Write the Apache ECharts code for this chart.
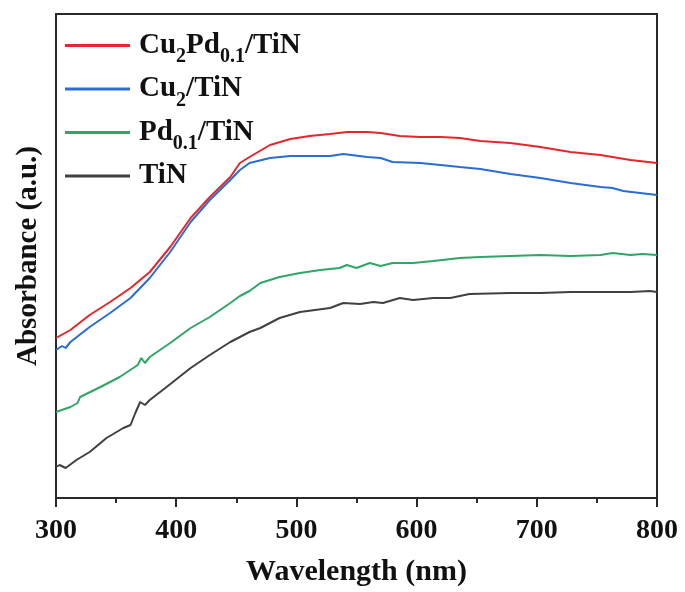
<!DOCTYPE html>
<html>
<head>
<meta charset="utf-8">
<script src="https://cdn.jsdelivr.net/npm/echarts@6/dist/echarts.min.js"></script>
<style>html,body{margin:0;padding:0;background:#fff}#c{width:685px;height:592px}</style>
</head>
<body>
<div id="c"></div>
<script>
// Series names (rich-text formatted in legend)
const seriesNames = ['Cu2Pd0.1/TiN', 'Cu2/TiN', 'Pd0.1/TiN', 'TiN'];
const legendRich = {
  'Cu2Pd0.1/TiN': '{b|Cu}{s|2}{b|Pd}{s|0.1}{b|/TiN}',
  'Cu2/TiN': '{b|Cu}{s|2}{b|/TiN}',
  'Pd0.1/TiN': '{b|Pd}{s|0.1}{b|/TiN}',
  'TiN': '{b|TiN}{s| }'
};
const xTicks = [300, 400, 500, 600, 700, 800];

// Wavelength (nm) and absorbance (a.u.)
const cuPdX = [300, 312, 328, 345, 362, 378, 395, 412, 428, 445, 453, 461, 478, 495, 511, 528, 542, 559, 570, 586, 603, 620, 636, 653, 678, 703, 728, 753, 778, 800];
const cuPdY = [160, 168, 183, 196, 210, 226, 251, 280, 301, 321, 335, 341, 353, 359, 362, 364, 366, 366, 365, 362, 361, 361, 360, 357, 355, 351, 346, 343, 338, 335];

const cuX = [300, 305, 308, 312, 328, 345, 362, 378, 395, 412, 428, 445, 453, 461, 478, 495, 511, 528, 539, 559, 570, 580, 603, 620, 636, 653, 678, 703, 728, 753, 763, 772, 786, 800];
const cuY = [148, 152, 150, 156, 171, 185, 200, 220, 246, 276, 298, 318, 328, 335, 340, 342, 342, 342, 344, 341, 340, 336, 335, 333, 331, 329, 324, 320, 315, 311, 310, 307, 305, 303];

const pdX = [300, 312, 318, 320, 337, 353, 368, 371, 374, 378, 395, 412, 428, 445, 453, 461, 470, 486, 503, 520, 536, 542, 550, 561, 570, 580, 597, 614, 636, 653, 678, 703, 728, 753, 763, 778, 788, 800];
const pdY = [86, 91, 95, 101, 111, 121, 133, 140, 135, 141, 155, 170, 181, 195, 202, 207, 215, 221, 225, 228, 230, 233, 230, 235, 232, 235, 235, 237, 240, 241, 242, 243, 242, 243, 245, 243, 244, 243];

const tinX = [300, 303, 308, 317, 328, 342, 356, 362, 366, 370, 374, 378, 392, 412, 428, 445, 461, 470, 486, 503, 528, 539, 553, 564, 572, 586, 597, 614, 628, 644, 678, 703, 728, 753, 778, 794, 800];
const tinY = [31, 33, 30, 38, 46, 60, 70, 73, 85, 96, 93, 98, 111, 130, 143, 156, 166, 170, 180, 186, 190, 195, 194, 196, 195, 200, 198, 200, 200, 204, 205, 205, 206, 206, 206, 207, 206];

const colors = ['#e5262b', '#2b6cd2', '#2fa567', '#404040'];

function pairs(xs, ys) { return xs.map((x, i) => [x, ys[i]]); }
const seriesData = [pairs(cuPdX, cuPdY), pairs(cuX, cuY), pairs(pdX, pdY), pairs(tinX, tinY)];

const serif = 'Liberation Serif';
const chart = echarts.init(document.getElementById('c'), null, { renderer: 'canvas' });
chart.setOption({
  animation: false,
  backgroundColor: '#fff',
  grid: { left: 56, right: 28, top: 14, bottom: 94, show: true, borderColor: '#2a2a2a', borderWidth: 2, backgroundColor: 'transparent' },
  legend: {
    orient: 'vertical', left: 60, top: 26,
    itemWidth: 65, itemHeight: 3, itemGap: 7.5,
    data: seriesNames.map((n) => ({ name: n, icon: 'rect' })),
    formatter: (n) => legendRich[n],
    textStyle: {
      padding: [0, 0, 0, 4],
      rich: {
        b: { fontFamily: serif, fontWeight: 'bold', fontSize: 29, color: '#111', lineHeight: 43, verticalAlign: 'middle' },
        s: { fontFamily: serif, fontWeight: 'bold', fontSize: 20, color: '#111', lineHeight: 20, verticalAlign: 'bottom' }
      }
    }
  },
  xAxis: {
    type: 'value', min: 300, max: 800, interval: 100,
    name: 'Wavelength (nm)', nameLocation: 'middle', nameGap: 59,
    nameTextStyle: { fontFamily: serif, fontWeight: 'bold', fontSize: 30, color: '#111' },
    axisLine: { show: true, onZero: false, lineStyle: { color: '#2a2a2a', width: 2 } },
    axisTick: { show: true, inside: false, length: 9, lineStyle: { color: '#2a2a2a', width: 2 } },
    minorTick: { show: true, splitNumber: 2, length: 5, lineStyle: { color: '#2a2a2a', width: 2 } },
    splitLine: { show: false },
    axisLabel: { fontFamily: serif, fontWeight: 'bold', fontSize: 28, color: '#111', margin: 19,
      formatter: (v) => xTicks.includes(v) ? String(v) : '' }
  },
  yAxis: {
    type: 'value', min: 0, max: 484,
    name: 'Absorbance (a.u.)', nameLocation: 'middle', nameGap: 13, nameRotate: 90,
    nameTextStyle: { fontFamily: serif, fontWeight: 'bold', fontSize: 29, color: '#111' },
    axisLine: { show: true, lineStyle: { color: '#2a2a2a', width: 2 } },
    axisTick: { show: false }, axisLabel: { show: false }, splitLine: { show: false }
  },
  series: seriesNames.map((n, i) => ({
    name: n, type: 'line', data: seriesData[i], showSymbol: false, symbol: 'none',
    color: colors[i],
    lineStyle: { color: colors[i], width: 2 }
  }))
});
</script>
</body>
</html>
